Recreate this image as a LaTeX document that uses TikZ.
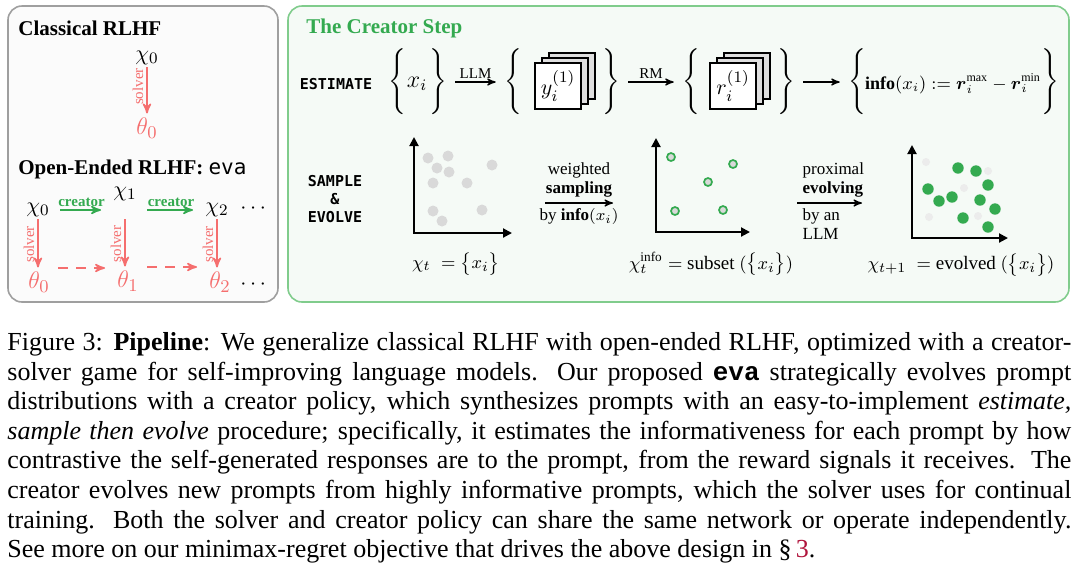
\documentclass[tikz,border=0pt]{standalone}
\usepackage{amsmath}
\usepackage{amssymb}
\usepackage{fontspec}
\setmainfont{Liberation Serif}
\setmonofont{DejaVu Sans Mono}
\newfontfamily\evafont{Liberation Mono}
\usetikzlibrary{arrows,arrows.meta,positioning}

\definecolor{solverred}{RGB}{245,110,110}
\definecolor{creatorgreen}{RGB}{52,170,80}
\definecolor{stepgreen}{RGB}{128,204,140}
\definecolor{stepfill}{RGB}{245,250,246}
\definecolor{refred}{RGB}{176,20,60}

\newcommand{\capline}[1]{\makebox[532pt][s]{#1}}

\tikzset{
  panel/.style={line width=0.8pt, rounded corners=7pt},
  title/.style={font=\fontsize{10.5}{12}\selectfont\bfseries, anchor=base west, inner sep=0pt},
  chi/.style={font=\fontsize{11}{12}\selectfont, inner sep=1pt},
  theta/.style={font=\fontsize{13}{14}\selectfont, text=solverred, inner sep=1pt},
  solver/.style={->, draw=solverred, line width=0.8pt},
  solverlab/.style={rotate=90, anchor=south, text=solverred, font=\fontsize{7.5}{8}\selectfont, inner sep=1.5pt},
  dashlink/.style={solver, dash pattern=on 5pt off 4pt, shorten <=3pt, shorten >=5pt},
  creator/.style={->, draw=creatorgreen, line width=0.8pt, shorten <=4pt, shorten >=5pt},
  creatorlab/.style={text=creatorgreen, font=\fontsize{7.5}{8}\selectfont\bfseries, inner sep=1.5pt},
  phase/.style={font=\fontsize{7.5}{9}\selectfont\ttfamily\bfseries, align=center},
  brace/.style={font=\fontsize{11}{12}\selectfont, inner sep=1pt},
  setel/.style={font=\fontsize{12}{13}\selectfont, inner sep=1pt},
  card/.style={draw, line width=0.9pt, minimum size=23pt, inner sep=0pt, fill=white, font=\fontsize{11}{12}\selectfont},
  backcard/.style={card, fill=gray!25},
  flow/.style={->, line width=0.6pt, shorten <=3pt, shorten >=3pt},
  flowlab/.style={font=\fontsize{7.5}{8}\selectfont, inner sep=1.5pt},
  steplab/.style={font=\fontsize{8.5}{9.5}\selectfont, align=center, inner sep=2.5pt},
  axis/.style={{Triangle[length=4.5pt,width=4.5pt]}-{Triangle[length=4.5pt,width=4.5pt]}, line width=1pt, shorten >=0pt},
  setlab/.style={font=\fontsize{9.5}{11}\selectfont},
  dot/.style={fill=gray!30},
  ring/.style={draw=creatorgreen, line width=0.85pt, fill=gray!30},
  faded/.style={fill=gray!15},
  picked/.style={fill=creatorgreen},
  caption/.style={font=\fontsize{13}{14.8}\selectfont, align=left, inner sep=0pt, anchor=north west},
}

\begin{document}
\begin{tikzpicture}[x=0.5pt, y=-0.5pt, >=stealth', shorten >=1pt, auto]
    \useasboundingbox (0,0) rectangle (1080,570);

    % the two panels
    \draw[panel, draw=gray!75, fill=gray!3] (8,6) rectangle (278,302);
    \draw[panel, draw=stepgreen, fill=stepfill] (288,6) rectangle (1069,302);

    % classical RLHF
    \node[title] (classic) at (18,35) {Classical RLHF};
    \node[chi] (cx) at (147,58) {$\chi_0$};
    \node[theta] (ct) at (147,128) {$\theta_0$};
    \draw[solver] (cx.south) -- node[solverlab, pos=0.4] {solver} (cx.south |- ct.north);

    % open-ended RLHF
    \node[title] (open) at (18,174) {Open-Ended RLHF: {\mdseries\ttfamily eva}};
    \node[chi] (c0) at (38,210) {$\chi_0$};
    \node[chi] (c1) at (125,194) {$\chi_1$};
    \node[chi] (c2) at (217,210) {$\chi_2$};
    \node[chi] (cdots) at (255,209) {$\cdots$};
    \node[theta] (t0) at (39,282) {$\theta_0$};
    \node[theta] (t1) at (128,281) {$\theta_1$};
    \node[theta] (t2) at (220,282) {$\theta_2$};
    \node[chi] (tdots) at (255,285) {$\cdots$};

    \draw[creator] (c0) -- node[creatorlab, above] {creator} (c0 -| c1.west);
    \draw[creator] (c1.east |- c2) -- node[creatorlab, above] {creator} (c2);
    \draw[solver] (c0.south) -- node[solverlab] {solver} (c0.south |- t0.north);
    \draw[solver] (c1 |- c0.south) -- node[solverlab] {solver} (c1 |- t1.north);
    \draw[solver] (c2.south) -- node[solverlab] {solver} (c2.south |- t2.north);
    \draw[dashlink] ([yshift=7pt]t0.east) -- ([yshift=7pt]t0.east -| t1.west);
    \draw[dashlink] ([yshift=7pt]t1.east) -- ([yshift=7pt]t1.east -| t2.west);

    % the creator step: estimate
    \node[title, text=creatorgreen] (step) at (306,33) {The Creator Step};
    \node[phase] (est) at (336,84) {ESTIMATE};

    \node[brace] (lbx) at (397,82) {$\Bigg\{$};
    \node[setel] (xi) at (417,84) {$x_i$};
    \node[brace] (rbx) at (438,82) {$\Bigg\}$};

    \node[brace] (lby) at (513,82) {$\Bigg\{$};
    \node[backcard] (yc3) at (572,76) {};
    \node[backcard] (yc2) at (565,81) {};
    \node[card] (yc1) at (558,86) {$y_i^{(1)}$};
    \node[brace] (rby) at (611,82) {$\Bigg\}$};

    \node[brace] (lbr) at (691,82) {$\Bigg\{$};
    \node[backcard] (rc3) at (747,76) {};
    \node[backcard] (rc2) at (740,81) {};
    \node[card] (rc1) at (733,86) {$r_i^{(1)}$};
    \node[brace] (rbr) at (786,82) {$\Bigg\}$};

    \node[brace] (lbi) at (857,82) {$\Bigg\{$};
    \node[setel, font=\fontsize{9}{10}\selectfont] (info) at (953,84) {$\mathbf{info}(x_i) \mathrel{:=} \boldsymbol{r}_i^{\max} - \boldsymbol{r}_i^{\min}$};
    \node[brace] (rbi) at (1050,82) {$\Bigg\}$};

    \path[flow] (rbx) edge node[flowlab] {LLM} (lby);
    \path[flow] (rby) edge node[flowlab] {RM} (lbr);
    \path[flow] (rbr) edge (lbi);

    % the creator step: sample and evolve
    \node[phase] (se) at (335,199) {SAMPLE\\\&\\EVOLVE};

    \coordinate (o1) at (414,233);
    \coordinate (ya1) at (414,137);
    \coordinate (xa1) at (512,233);
    \foreach \x/\y in {428/158, 448/156, 437/168, 449/172, 492/165, 433/183, 467/183, 433/211, 442/221, 482/210}
        \fill[dot] (\x,\y) circle[radius=5.5];
    \draw[axis] (ya1) -- (o1) -- (xa1);
    \node[setlab] (lab1) at (456,264) {$\chi_t\;=\big\{x_i\big\}$};

    \coordinate (ws0) at (545,203);
    \coordinate (ws1) at (613,203);
    \draw[flow, shorten <=0pt, shorten >=0pt] (ws0) -- node[steplab, above] {weighted\\\textbf{sampling}}
        node[steplab, below] {by $\mathbf{info}(x_i)$} (ws1);

    \coordinate (o2) at (656,232);
    \coordinate (ya2) at (656,138);
    \coordinate (xa2) at (750,232);
    \foreach \x/\y in {671/157, 733/164, 708/182, 675/211, 723/210}
        \draw[ring] (\x,\y) circle[radius=4];
    \draw[axis] (ya2) -- (o2) -- (xa2);
    \node[setlab] (lab2) at (711,264) {$\chi_t^{\mathrm{info}} =$ subset $(\big\{x_i\big\})$};

    \coordinate (pe0) at (797,203);
    \coordinate (pe1) at (862,203);
    \draw[flow, shorten <=0pt, shorten >=0pt] (pe0) -- node[steplab, above right, align=left, at start] {proximal\\\textbf{evolving}}
        node[steplab, below right, align=left, at start] {by an\\LLM} (pe1);

    \coordinate (o3) at (912,238);
    \coordinate (ya3) at (912,145);
    \coordinate (xa3) at (1008,238);
    \foreach \x/\y in {926/162, 988/171, 964/188, 929/217, 978/216}
        \fill[faded] (\x,\y) circle[radius=4];
    \foreach \x/\y in {958/168, 976/171, 928/189, 988/185, 939/201, 952/197, 980/200, 995/209, 963/218, 988/227}
        \fill[picked] (\x,\y) circle[radius=5.7];
    \draw[axis] (ya3) -- (o3) -- (xa3);
    \node[setlab] (lab3) at (961,265) {$\chi_{t+1}\;=$ evolved $(\big\{x_i\big\})$};

    % caption
    \node[caption] (cap) at (7,332) {%
        \capline{Figure 3: \textbf{Pipeline}: We generalize classical RLHF with open-ended RLHF, optimized with a creator-}\\
        \capline{solver game for self-improving language models. Our proposed {\evafont\bfseries eva} strategically evolves prompt}\\
        \capline{distributions with a creator policy, which synthesizes prompts with an easy-to-implement \textit{estimate,}}\\
        \capline{\textit{sample then evolve} procedure; specifically, it estimates the informativeness for each prompt by how}\\
        \capline{contrastive the self-generated responses are to the prompt, from the reward signals it receives. The}\\
        \capline{creator evolves new prompts from highly informative prompts, which the solver uses for continual}\\
        \capline{training. Both the solver and creator policy can share the same network or operate independently.}\\
        See more on our minimax-regret objective that drives the above design in \S\,\textcolor{refred}{3}.};
\end{tikzpicture}
\end{document}
